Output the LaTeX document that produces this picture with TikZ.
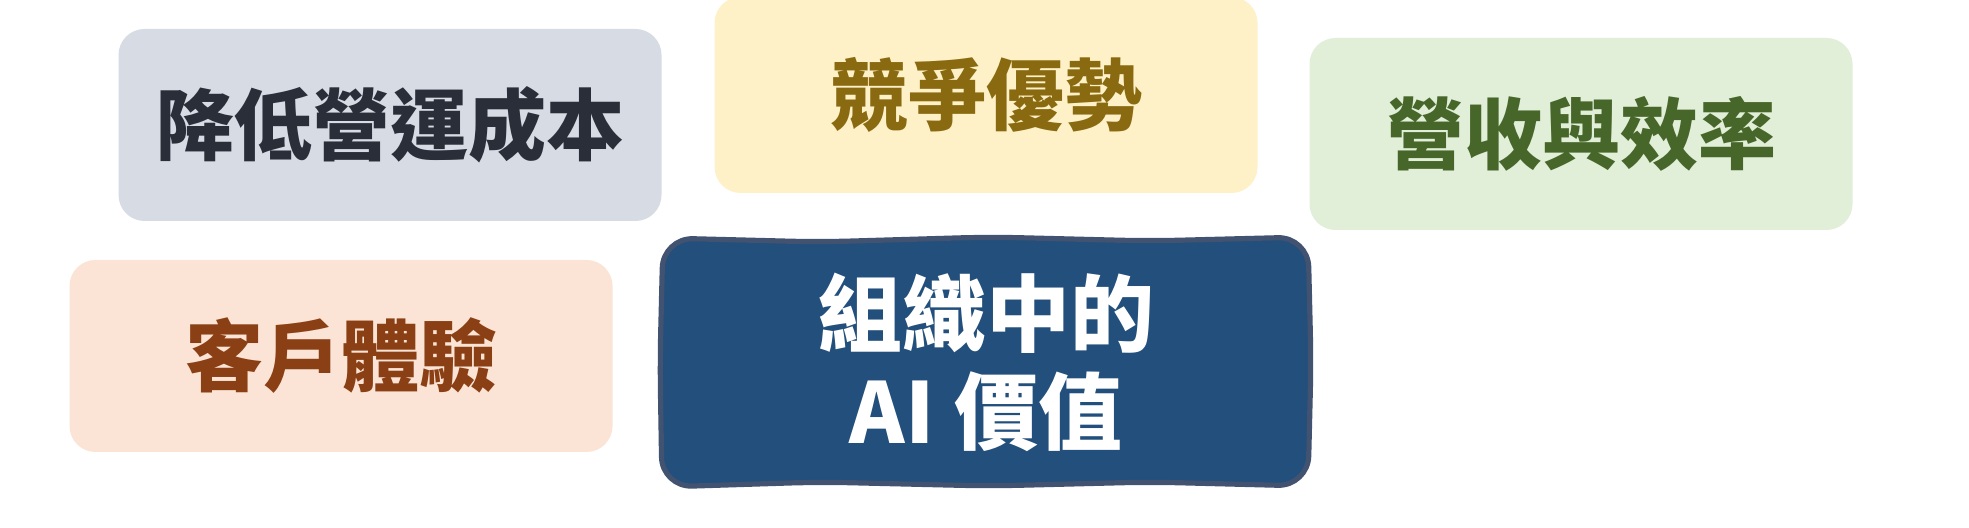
\documentclass[tikz,border=0pt]{standalone}
\usepackage{fontspec}
\newfontfamily\cjk{Noto Sans CJK TC}
\definecolor{costfill}{HTML}{D7DCE4}
\definecolor{costtext}{HTML}{2A2E38}
\definecolor{compfill}{HTML}{FEF1C8}
\definecolor{comptext}{HTML}{8A6A10}
\definecolor{revfill}{HTML}{E1EED8}
\definecolor{revtext}{HTML}{46662A}
\definecolor{custfill}{HTML}{FBE4D5}
\definecolor{custtext}{HTML}{8A3F14}
\definecolor{aifill}{HTML}{224F7B}
\definecolor{aiedge}{HTML}{425271}
\begin{document}
\begin{tikzpicture}[x=0.5pt,y=-0.5pt,
    card/.style={rounded corners=13pt,inner sep=0pt,minimum width=271.5pt,minimum height=96pt,
      font=\cjk\bfseries\fontsize{39}{44}\selectfont},
    core/.style={text=white,inner sep=0pt,align=center,
      font=\cjk\bfseries\fontsize{42}{49}\selectfont}]
    \useasboundingbox[fill=white] (0,0) rectangle (1969,528);
    \clip (0,0) rectangle (1969,528);

    \node[card,fill=costfill,text=costtext] (cost) at (390,125) {降低營運成本};
    \node[card,fill=compfill,text=comptext,minimum height=98pt] (comp) at (986,95) {競爭優勢};
    \node[card,fill=revfill,text=revtext] (rev) at (1581,134) {營收與效率};
    \node[card,fill=custfill,text=custtext] (cust) at (341,356) {客戶體驗};

    % hand drawn frame for the middle card
    \draw[draw=aiedge,line width=2.6pt,fill=aifill,rounded corners=15pt]
      (663,238) -- (820,242) -- (990,237) -- (1150,241) -- (1308,237)
      -- (1311,362) -- (1308,486) -- (1150,482) -- (990,486) -- (820,482)
      -- (662,487) -- (660,362) -- cycle;
    \node[core] (ai) at (986,362) {組織中的\\AI 價值};
\end{tikzpicture}
\end{document}
